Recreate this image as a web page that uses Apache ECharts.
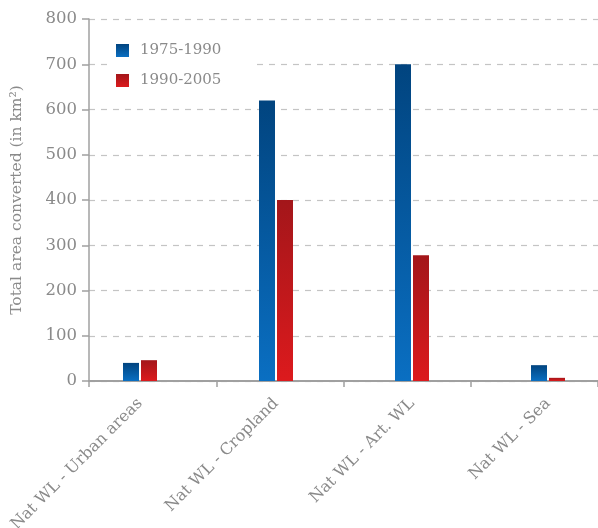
<!DOCTYPE html>
<html>
<head>
<meta charset="utf-8">
<script src="https://cdn.jsdelivr.net/npm/echarts@6/dist/echarts.min.js"></script>
<style>
html,body{margin:0;padding:0;background:#fff;}
#c{width:598px;height:528px;}
</style>
</head>
<body>
<div id="c"></div>
<script>
const categories = ['Nat WL - Urban areas', 'Nat WL - Cropland', 'Nat WL - Art. WL', 'Nat WL - Sea'];
const series1975 = [40, 620, 700, 35];
const series1990 = [46, 400, 278, 7];
const yTicks = [0, 100, 200, 300, 400, 500, 600, 700, 800];

const FONT = 'DejaVu Serif';
const TEXT = '#8a8a8a';
const LINE = '#a0a0a0';

const blueGrad = new echarts.graphic.LinearGradient(0, 0, 0, 1, [
  {offset: 0, color: '#01447f'}, {offset: 1, color: '#0a6fc2'}
]);
const redGrad = new echarts.graphic.LinearGradient(0, 0, 0, 1, [
  {offset: 0, color: '#a3161a'}, {offset: 1, color: '#dc1a1d'}
]);

const chart = echarts.init(document.getElementById('c'), null, {renderer: 'canvas'});
chart.setOption({
  backgroundColor: '#ffffff',
  animation: false,
  legend: {
    orient: 'vertical',
    left: 108, top: 38,
    itemWidth: 13, itemHeight: 13,
    itemGap: 15,
    padding: [5, 30, 5, 8],
    backgroundColor: '#ffffff',
    icon: 'rect',
    textStyle: {fontFamily: FONT, fontSize: 15, color: TEXT, padding: [0, 0, 0, 6]},
    data: ['1975-1990', '1990-2005']
  },
  grid: [
    {left: 89, width: 509, top: 19, height: 362, containLabel: false, outerBoundsMode: 'none'},
    {left: 72, width: 544, top: 19, height: 362, containLabel: false, outerBoundsMode: 'none'}
  ],
  xAxis: [
    {
      type: 'category', gridIndex: 0, data: categories,
      axisLine: {lineStyle: {color: LINE, width: 2}},
      axisTick: {show: true, interval: 0, length: 6, lineStyle: {color: LINE, width: 1.5}},
      axisLabel: {show: false, interval: 0},
      splitLine: {show: false}
    },
    {
      type: 'category', gridIndex: 1, data: categories,
      axisLine: {show: false},
      axisTick: {show: false},
      axisLabel: {
        rotate: 45, margin: 20, interval: 0,
        fontFamily: FONT, fontSize: 16, color: TEXT
      },
      splitLine: {show: false}
    }
  ],
  yAxis: [
    {
      type: 'value', gridIndex: 0, min: 0, max: 800, interval: 100,
      name: 'Total area converted (in km²)',
      nameLocation: 'middle', nameGap: 64,
      nameTextStyle: {fontFamily: FONT, fontSize: 15.5, color: TEXT},
      axisLine: {show: true, lineStyle: {color: LINE, width: 1.5}},
      axisTick: {show: true, length: 7, lineStyle: {color: LINE, width: 1.5}},
      axisLabel: {
        margin: 12, fontFamily: FONT, fontSize: 16.5, color: TEXT,
        formatter: v => yTicks.includes(v) ? String(v) : ''
      },
      splitLine: {show: true, lineStyle: {color: '#c4c4c4', type: [6, 6], width: 1.2}}
    },
    {
      type: 'value', gridIndex: 1, min: 0, max: 800, interval: 100,
      axisLine: {show: false}, axisTick: {show: false},
      axisLabel: {show: false}, splitLine: {show: false}
    }
  ],
  series: [
    {
      name: '1975-1990', type: 'bar', xAxisIndex: 1, yAxisIndex: 1,
      data: series1975, barWidth: 16, barGap: '12.5%',
      itemStyle: {color: blueGrad}, z: 3
    },
    {
      name: '1990-2005', type: 'bar', xAxisIndex: 1, yAxisIndex: 1,
      data: series1990, barWidth: 16, barGap: '12.5%',
      itemStyle: {color: redGrad}, z: 3
    }
  ]
});
</script>
</body>
</html>
